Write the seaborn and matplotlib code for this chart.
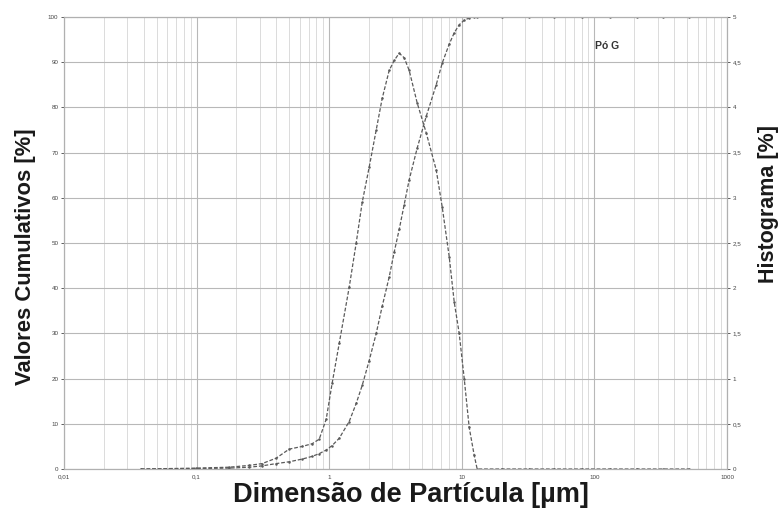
import numpy as np
import pandas as pd
import matplotlib
matplotlib.use("Agg")
import matplotlib.pyplot as plt
import seaborn as sns
from matplotlib.ticker import LogLocator, NullFormatter

# Data
diameter_um = [0.038, 0.062, 0.099, 0.176, 0.249, 0.312, 0.398, 0.499, 0.626, 0.744, 0.841,
               0.949, 1.053, 1.19, 1.415, 1.598, 1.774, 2.003, 2.262, 2.51, 2.835, 3.092,
               3.372, 3.678, 4.011, 4.609, 5.389, 6.411, 7.115, 8.035, 8.763, 9.559, 10.43,
               11.37, 12.41, 13.06, 20.0, 32.0, 50.0, 80.0, 130.0, 210.0, 330.0, 520.0]
cumulative = [0.0, 0.05, 0.1, 0.2, 0.4, 0.7, 1.2, 1.6, 2.2, 2.8, 3.4,
              4.2, 5.2, 6.8, 10.5, 14.5, 18.5, 24.0, 30.0, 36.0, 42.5, 48.0,
              53.0, 58.5, 64.0, 71.0, 78.0, 85.0, 89.8, 94.0, 96.5, 98.3, 99.3,
              99.8, 100.0, 100.0, 100.0, 100.0, 100.0, 100.0, 100.0, 100.0, 100.0, 100.0]
histogram = [0.0, 0.005, 0.01, 0.02, 0.04, 0.06, 0.12, 0.22, 0.25, 0.28, 0.33,
             0.55, 0.95, 1.39, 2.01, 2.5, 2.95, 3.34, 3.75, 4.1, 4.41, 4.52,
             4.6, 4.55, 4.41, 4.05, 3.72, 3.31, 2.9, 2.35, 1.85, 1.5, 1.0,
             0.46, 0.15, 0.0, 0.0, 0.0, 0.0, 0.0, 0.0, 0.0, 0.0, 0.0]

x_ticks = [0.01, 0.1, 1, 10, 100, 1000]
x_tick_labels = ["0,01", "0,1", "1", "10", "100", "1000"]
left_ticks = [0, 10, 20, 30, 40, 50, 60, 70, 80, 90, 100]
right_ticks = [0, 0.5, 1, 1.5, 2, 2.5, 3, 3.5, 4, 4.5, 5]
right_tick_labels = ["0", "0,5", "1", "1,5", "2", "2,5", "3", "3,5", "4", "4,5", "5"]

df = pd.DataFrame({"d": diameter_um, "cum": cumulative, "hist": histogram})

sns.set_theme(style="white")
plt.rcParams["font.family"] = ["Liberation Sans", "DejaVu Sans"]

fig = plt.figure(figsize=(7.83, 5.17), dpi=100)
ax = fig.add_axes([0.0817, 0.0928, 0.8468, 0.8742])
ax2 = ax.twinx()

line_kw = dict(color="#5a5a5a", linewidth=0.9, linestyle=(0, (3, 1.5)),
               marker="o", markersize=1.8, markeredgewidth=0)
sns.lineplot(data=df, x="d", y="cum", ax=ax, **line_kw)
sns.lineplot(data=df, x="d", y="hist", ax=ax2, **line_kw)

ax.set_xscale("log")
ax.set_xlim(0.01, 1000)
ax.set_ylim(0, 100)
ax2.set_ylim(0, 5)

ax.set_xticks(x_ticks)
ax.set_xticklabels(x_tick_labels)
ax.xaxis.set_minor_locator(LogLocator(base=10, subs=np.arange(2, 10)))
ax.xaxis.set_minor_formatter(NullFormatter())
ax.set_yticks(left_ticks)
ax.set_yticklabels([str(t) for t in left_ticks])
ax2.set_yticks(right_ticks)
ax2.set_yticklabels(right_tick_labels)

ax.grid(True, which="major", axis="both", color="#b8b8b8", linewidth=0.8)
ax.grid(True, which="minor", axis="x", color="#d6d6d6", linewidth=0.6)
ax.set_axisbelow(True)
ax2.grid(False)

for a in (ax, ax2):
    for s in a.spines.values():
        s.set_color("#b0b0b0")
        s.set_linewidth(0.8)
    a.tick_params(axis="both", which="major", labelsize=4.5, colors="#444444",
                  length=2, width=0.6, pad=2)
    a.tick_params(axis="both", which="minor", length=0)

ax.set_xlabel("Dimensão de Partícula [µm]", fontsize=19.5, fontweight="bold",
              color="#1a1a1a")
ax.xaxis.set_label_coords(0.523, -0.029)
ax.set_ylabel("Valores Cumulativos [%]", fontsize=15.8, fontweight="bold",
              color="#1a1a1a")
ax.yaxis.set_label_coords(-0.042, 0.47)
ax2.set_ylabel("Histograma [%]", fontsize=15.5, fontweight="bold",
               color="#1a1a1a", rotation=90)
ax2.yaxis.set_label_coords(1.047, 0.586)

ax.text(0.819, 0.936, "Pó G", transform=ax.transAxes, fontsize=7.5,
        fontweight="bold", color="#333333", ha="center", va="center")

fig.savefig("out.png", dpi=100)
